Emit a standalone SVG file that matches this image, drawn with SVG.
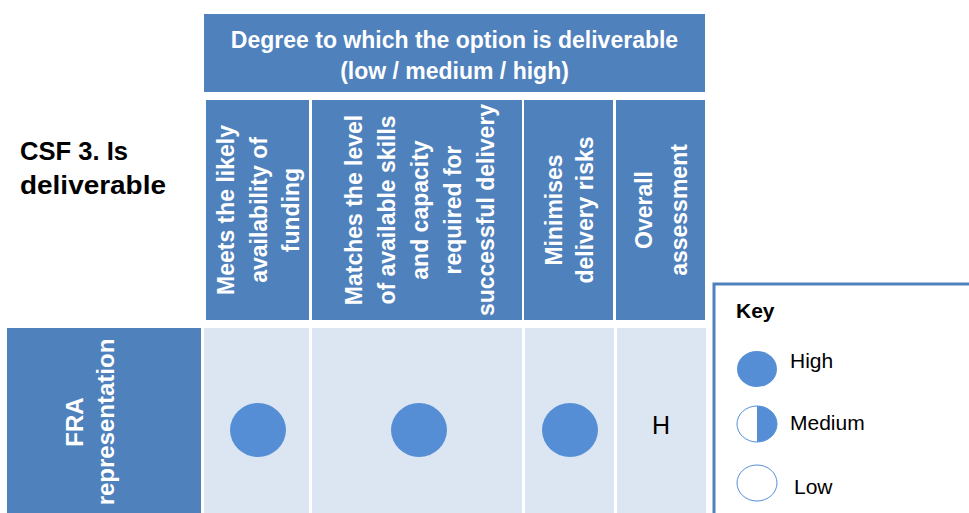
<svg xmlns="http://www.w3.org/2000/svg" width="969" height="513" viewBox="0 0 969 513">
<style>
.hdr{fill:#4f81bd}
.cell{fill:#dce6f2}
.wt{fill:#fff;font-family:"Liberation Sans",Arial,sans-serif;font-weight:bold;font-size:23px;text-anchor:middle}
.vt{fill:#fff;font-family:"Liberation Sans",Arial,sans-serif;font-weight:bold;font-size:23px;text-anchor:middle}
.dot{fill:#558ed5}
.key{font-family:"Liberation Sans",Arial,sans-serif;font-size:21px;fill:#000}
</style>
<rect width="969" height="513" fill="#fff"/>
<g id="title">
<text x="20" y="160" font-family="Liberation Sans,Arial,sans-serif" font-weight="bold" font-size="26" textLength="108" lengthAdjust="spacingAndGlyphs">CSF 3. Is</text>
<text x="20" y="194" font-family="Liberation Sans,Arial,sans-serif" font-weight="bold" font-size="26" textLength="146" lengthAdjust="spacingAndGlyphs">deliverable</text>
</g>
<g id="header">
<rect class="hdr" x="204" y="14" width="501" height="78"/>
<text class="wt" x="454.5" y="48">Degree to which the option is deliverable</text>
<text class="wt" x="454.5" y="79">(low / medium / high)</text>
</g>
<g id="col1">
<rect class="hdr" x="206" y="100" width="103" height="220"/>
<g transform="translate(257.5,210) rotate(-90)">
<text class="vt" x="0" y="-24">Meets the likely</text>
<text class="vt" x="0" y="9">availability of</text>
<text class="vt" x="0" y="41">funding</text>
</g>
</g>
<g id="col2">
<rect class="hdr" x="312" y="100" width="210" height="220"/>
<g transform="translate(417,210) rotate(-90)">
<text class="vt" x="0" y="-55">Matches the level</text>
<text class="vt" x="0" y="-22">of available skills</text>
<text class="vt" x="0" y="11">and capacity</text>
<text class="vt" x="0" y="44">required for</text>
<text class="vt" x="0" y="77">successful delivery</text>
</g>
</g>
<g id="col3">
<rect class="hdr" x="524" y="100" width="89" height="220"/>
<g transform="translate(568.5,210) rotate(-90)">
<text class="vt" x="0" y="-7">Minimises</text>
<text class="vt" x="0" y="24">delivery risks</text>
</g>
</g>
<g id="col4">
<rect class="hdr" x="616" y="100" width="89" height="220"/>
<g transform="translate(660.5,210) rotate(-90)">
<text class="vt" x="0" y="-9">Overall</text>
<text class="vt" x="0" y="26">assessment</text>
</g>
</g>
<g id="rowlabel">
<rect class="hdr" x="7" y="328" width="194" height="190"/>
<g transform="translate(90,422) rotate(-90)">
<text class="vt" x="0" y="-7" style="font-size:24px">FRA</text>
<text class="vt" x="0" y="24" style="font-size:24px">representation</text>
</g>
</g>
<g id="cell1">
<rect class="cell" x="204" y="328" width="105" height="190"/>
<ellipse class="dot" cx="258" cy="430" rx="28" ry="27"/>
</g>
<g id="cell2">
<rect class="cell" x="312" y="328" width="210" height="190"/>
<ellipse class="dot" cx="419" cy="430" rx="28" ry="27"/>
</g>
<g id="cell3">
<rect class="cell" x="525" y="328" width="89" height="190"/>
<ellipse class="dot" cx="570" cy="430" rx="28" ry="27"/>
</g>
<g id="cell4">
<rect class="cell" x="617" y="328" width="89" height="190"/>
<text x="661" y="434" font-family="Liberation Sans,Arial,sans-serif" font-size="25" text-anchor="middle">H</text>
</g>
<g id="key">
<rect x="714" y="284" width="270" height="240" fill="#fff" stroke="#4f81bd" stroke-width="3"/>
<text x="736" y="318" font-family="Liberation Sans,Arial,sans-serif" font-weight="bold" font-size="21">Key</text>
<ellipse class="dot" cx="757" cy="369" rx="20" ry="18"/>
<text class="key" x="790" y="368">High</text>
<ellipse cx="757" cy="424" rx="20" ry="18" fill="#fff" stroke="#558ed5" stroke-width="1"/>
<path d="M757,406 A20,18 0 0 1 757,442 Z" class="dot"/>
<text class="key" x="790" y="430">Medium</text>
<ellipse cx="757" cy="483" rx="20" ry="18" fill="#fff" stroke="#558ed5" stroke-width="1"/>
<text class="key" x="794" y="494">Low</text>
</g>
</svg>
